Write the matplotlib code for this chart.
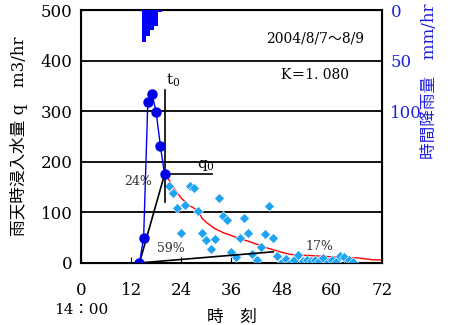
import matplotlib
matplotlib.use("Agg")
import matplotlib.pyplot as plt
import matplotlib.transforms as mtransforms

plt.rcParams['font.family'] = ['DejaVu Serif', 'Noto Sans CJK JP']
plt.rcParams['mathtext.fontset'] = 'dejavuserif'

# 降雨量 (mm/hr)
rain_t = [15, 16, 17, 18, 19]
rain_mm = [32, 26, 20, 16, 2]

# 雨天時浸入水量 立ち上がり部分
peak_t = [14, 15, 16, 17, 18, 19, 20]
peak_q = [0, 50, 318, 334, 298, 232, 175]

# 減衰部分の実測値
obs_t = list(range(21, 66))
obs_q = [152, 139, 108, 60, 115, 152, 148, 103, 60, 45,
         27, 47, 128, 93, 85, 22, 11, 49, 89, 60,
         18, 6, 32, 58, 113, 50, 13, 1, 7, 0,
         6, 16, 3, 6, 3, 6, 3, 9, 1, 5,
         1, 14, 11, 6, 1]

# 逓減曲線
fit_t = [20, 21, 22, 24, 26, 28, 29, 30, 32, 34, 36, 38, 40, 42, 44,
         46, 48, 50, 52, 54, 56, 58, 60, 62, 64, 66, 68, 70, 72]
fit_q = [175, 165, 150, 128, 113, 104, 88, 80, 68, 60, 54, 48, 43, 37, 31,
         26, 21, 17, 15, 15, 14, 13, 12, 11, 10, 10, 8, 6, 6]

# 補助線
tri_t = [20, 14, 46]
tri_q = [175, 0, 22]

fig = plt.figure(figsize=(4.57, 3.25), dpi=100)
ax = fig.add_axes([0.177, 0.191, 0.659, 0.778])

for yv in [100, 200, 300, 400]:
    ax.axhline(yv, color='black', lw=1.3, zorder=1)

ax.plot(fit_t, fit_q, color='red', lw=1.0, zorder=2)
ax.plot(obs_t, obs_q, 'D', color='#1FA3F5', ms=4.8, mec='white', mew=0.4, zorder=3)
ax.plot(tri_t, tri_q, color='black', lw=1.2, zorder=4)
ax.plot([20, 20], [121, 342], color='black', lw=1.2, zorder=4)
ax.plot([20, 31.3], [175, 175], color='black', lw=1.2, zorder=4)
ax.plot(peak_t, peak_q, '-o', color='#0000E6', lw=1.0, ms=6.5, zorder=5)

ax.text(20.3, 352, r'$\mathregular{t_0}$', fontsize=11)
ax.text(27.8, 188, r'$\mathregular{q_0}$', fontsize=11)
ax.text(13.6, 162, '24%', fontsize=9, ha='center', va='center', color='#333333')
ax.text(21.4, 29, '59%', fontsize=9, ha='center', va='center', color='#333333')
ax.text(57.0, 32, '17%', fontsize=9, ha='center', va='center', color='#333333')
ax.text(56, 443, '2004/8/7～8/9', fontsize=10, ha='center', va='center')
ax.text(56, 372, 'K＝1. 080', fontsize=10, ha='center', va='center')

ax.set_xlim(0, 72)
ax.set_ylim(0, 500)
ax.set_xticks(range(0, 73, 12))
ax.set_yticks(range(0, 501, 100))
ax.tick_params(axis='x', direction='in', length=4, labelsize=12, pad=14, color='black')
ax.tick_params(axis='y', direction='in', length=0, labelsize=12, pad=6)
for s in ax.spines.values():
    s.set_linewidth(1.5)

ax.set_xlabel('時　刻', fontsize=12, labelpad=7)
ax.set_ylabel('雨天時浸入水量 q　m3/hr', fontsize=12, labelpad=9)

trans = mtransforms.blended_transform_factory(ax.transData, fig.transFigure)
ax.text(0, 0.046, '14：00', transform=trans, fontsize=11, ha='center', va='center')

ax2 = ax.twinx()
ax2.bar(rain_t, rain_mm, width=1.0, color='#0000FF', zorder=3)
ax2.set_ylim(250, 0)
ax2.set_yticks([0, 50, 100])
ax2.tick_params(axis='y', length=0, labelsize=12, labelcolor='#2020E0', pad=6)
ax2.set_ylabel('時間降雨量　mm/hr', fontsize=12, color='#2020E0')
ax2.yaxis.set_label_coords(1.128, 0.72)

fig.savefig('out.png', dpi=100)
